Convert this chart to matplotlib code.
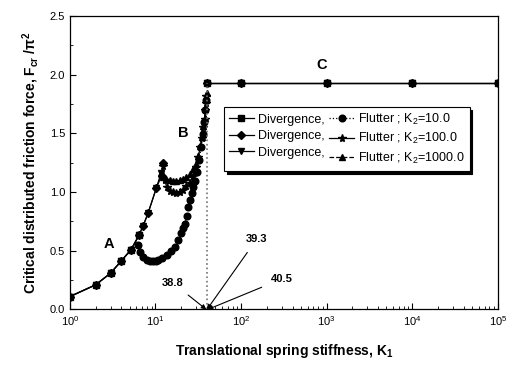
import matplotlib
matplotlib.use("Agg")
import matplotlib.pyplot as plt
from matplotlib.ticker import LogLocator, MultipleLocator, FormatStrFormatter
import numpy as np

plt.rcParams['font.family'] = ['Liberation Sans', 'DejaVu Sans']
plt.rcParams['mathtext.fontset'] = 'custom'
plt.rcParams['mathtext.rm'] = 'Liberation Sans'
plt.rcParams['mathtext.it'] = 'Liberation Sans:italic'
plt.rcParams['mathtext.bf'] = 'Liberation Sans:bold'

# ---- data ----
# Divergence, low-stiffness region (A)
div_k2_10_K = [1, 2, 3, 4, 5.2, 6.4]
div_k2_10_F = [0.11, 0.21, 0.31, 0.415, 0.51, 0.63]
div_k2_100_K = [1, 2, 3, 4, 5.2, 6.4, 7.2, 8.2, 10.2, 11.8, 12.4]
div_k2_100_F = [0.11, 0.21, 0.31, 0.415, 0.51, 0.63, 0.715, 0.82, 1.03, 1.14, 1.25]
div_k2_1000_K = [1, 2, 3, 4, 5.2, 6.4, 7.2, 8.2, 10.2, 11.6]
div_k2_1000_F = [0.11, 0.21, 0.31, 0.415, 0.51, 0.63, 0.715, 0.82, 1.03, 1.16]
# Divergence, high-stiffness region (C)
div_C_K = [40.5, 100, 1000, 10000, 100000]
div_C_F = [1.93, 1.93, 1.93, 1.93, 1.93]

# Flutter curves (B)
flt_k2_10_K = [6.2, 6.6, 7.2, 8.0, 8.7, 9.4, 10.2, 10.8, 12.0, 13.5, 15.0, 16.8,
               18.4, 20.1, 21.1, 22.1, 23.2, 24.2, 25.3, 26.5, 27.6, 28.8, 30.7,
               32.4, 34.2, 35.8, 37.2, 38.2, 38.8]
flt_k2_10_F = [0.55, 0.49, 0.45, 0.42, 0.41, 0.41, 0.415, 0.42, 0.44, 0.46, 0.50, 0.535,
               0.59, 0.65, 0.69, 0.73, 0.80, 0.875, 0.93, 0.99, 1.04, 1.09, 1.17,
               1.27, 1.38, 1.49, 1.60, 1.70, 1.78]
flt_k2_100_K = [12.4, 12.8, 13.6, 14.7, 16.1, 17.6, 19.3, 21.0, 23.0, 25.2, 27.5,
                29.5, 31.6, 33.4, 35.0, 36.4, 37.5, 38.4, 39.0, 39.3]
flt_k2_100_F = [1.22, 1.10, 1.04, 1.01, 1.00, 0.995, 1.0, 1.02, 1.05, 1.08, 1.14,
                1.21, 1.30, 1.38, 1.46, 1.55, 1.62, 1.70, 1.76, 1.82]
flt_k2_1000_K = [11.6, 12.2, 13.4, 14.7, 16.1, 17.6, 19.3, 21.0, 23.0, 25.2, 27.5,
                 29.5, 31.6, 33.4, 35.0, 36.4, 37.5, 38.4, 39.3, 40.5]
flt_k2_1000_F = [1.16, 1.13, 1.11, 1.10, 1.09, 1.09, 1.10, 1.11, 1.13, 1.15, 1.20,
                 1.24, 1.31, 1.39, 1.47, 1.56, 1.63, 1.71, 1.78, 1.84]

# vertical boundary line
vline_K = [39.8, 39.8]
vline_F = [0.0, 1.93]

region_labels = ['A', 'B', 'C']
region_K = [2.9, 21, 870]
region_F = [0.56, 1.50, 2.08]

annot_texts = ['38.8', '39.3', '40.5']
annot_tip_K = [39.3, 40.0, 40.8]
annot_text_K = [16.0, 153, 300]
annot_text_F = [0.226, 0.60, 0.26]

# ---- figure ----
fig = plt.figure(figsize=(5.10, 3.68), dpi=100)
ax = fig.add_axes([0.137, 0.159, 0.839, 0.798])

ms = 4.8
lw = 0.9
# divergence
l_d10, = ax.plot(div_k2_10_K, div_k2_10_F, '-', color='k', lw=lw, marker='s', ms=ms-0.5,
                 label='Divergence,')
l_d100, = ax.plot(div_k2_100_K, div_k2_100_F, '-', color='k', lw=lw, marker='D', ms=ms-0.5,
                  label='Divergence,')
l_d1000, = ax.plot(div_k2_1000_K, div_k2_1000_F, '-', color='k', lw=lw, marker='v', ms=ms,
                   label='Divergence,')
for mk in ['s', 'D', 'v']:
    ax.plot(div_C_K, div_C_F, '-', color='k', lw=lw, marker=mk, ms=ms-0.5)

# flutter
l_f10, = ax.plot(flt_k2_10_K, flt_k2_10_F, ':', color='k', lw=lw, marker='o', ms=ms,
                 label='Flutter ; K$_2$=10.0')
l_f100, = ax.plot(flt_k2_100_K, flt_k2_100_F, '-', color='k', lw=lw, marker='*', ms=ms+1,
                  label='Flutter ; K$_2$=100.0')
l_f1000, = ax.plot(flt_k2_1000_K, flt_k2_1000_F, '--', color='k', lw=lw, marker='^', ms=ms,
                   label='Flutter ; K$_2$=1000.0')

ax.plot(vline_K, vline_F, ':', color='0.45', lw=1.2)

for t, k, f in zip(region_labels, region_K, region_F):
    ax.text(k, f, t, fontsize=10.5, fontweight='bold', ha='center', va='center')

for t, tip, tk, tf in zip(annot_texts, annot_tip_K, annot_text_K, annot_text_F):
    ax.annotate(t, xy=(tip, 0.0), xytext=(tk, tf), fontsize=8, fontweight='bold',
                ha='center', va='center',
                arrowprops=dict(arrowstyle='-|>', color='k', lw=0.8,
                                shrinkA=5, shrinkB=0, mutation_scale=7))

ax.set_xscale('log')
ax.set_xlim(1, 1e5)
ax.set_ylim(0, 2.5)
ax.xaxis.set_major_locator(LogLocator(base=10, numticks=10))
ax.xaxis.set_minor_locator(LogLocator(base=10, subs=np.arange(2, 10), numticks=20))
ax.yaxis.set_major_locator(MultipleLocator(0.5))
ax.yaxis.set_minor_locator(MultipleLocator(0.25))
ax.yaxis.set_major_formatter(FormatStrFormatter('%.1f'))
ax.tick_params(which='both', direction='in', top=False, right=False, labelsize=8)
ax.tick_params(which='major', length=4, width=0.8)
ax.tick_params(which='minor', length=2, width=0.6)
for s in ax.spines.values():
    s.set_linewidth(0.9)

ax.set_xlabel('Translational spring stiffness, K$_\\mathbf{1}$', fontsize=10,
              fontweight='bold', labelpad=10)
ax.set_ylabel('Critical distributed friction force, F$_{\\mathbf{cr}}$ /$\\mathbf{\\pi}^{\\mathbf{2}}$',
              fontsize=10, fontweight='bold', labelpad=6)

handles = [l_d10, l_d100, l_d1000, l_f10, l_f100, l_f1000]
labels = [h.get_label() for h in handles]
leg = ax.legend(handles, labels, ncol=2, loc='upper left', bbox_to_anchor=(0.36, 0.69),
                fontsize=9, frameon=True, fancybox=False,
                shadow={'color': 'k', 'alpha': 1.0}, edgecolor='k',
                handlelength=2.0, handletextpad=0.3, columnspacing=0.4, labelspacing=0.35,
                borderpad=0.4, borderaxespad=0)
leg.get_frame().set_linewidth(0.8)

fig.savefig('out.png', dpi=100)
